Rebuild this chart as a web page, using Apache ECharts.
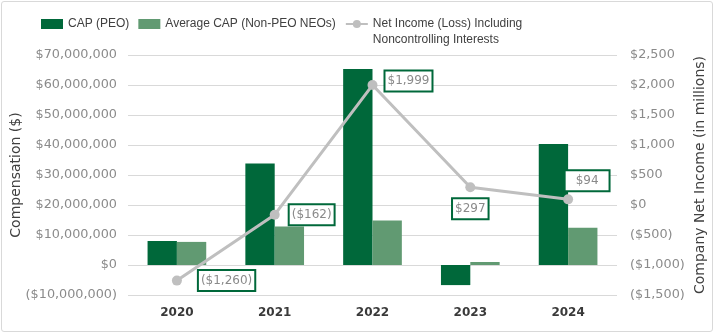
<!DOCTYPE html>
<html><head><meta charset="utf-8">
<script src="https://cdn.jsdelivr.net/npm/echarts@6/dist/echarts.min.js"></script>
<style>
html,body{margin:0;padding:0;background:#fff;}
#frame{position:absolute;left:1px;top:1px;width:710px;height:329px;border:1px solid #d9d9d9;border-radius:3px;}
#c{position:absolute;left:0;top:0;width:714px;height:333px;}
</style></head>
<body><div id="frame"></div><div id="c"></div>
<script>
const years = ['2020','2021','2022','2023','2024'];
const capPeo = [8.0e6, 33.8e6, 65.3e6, -6.7e6, 40.3e6];
const capNeo = [7.7e6, 12.8e6, 14.8e6, 1.0e6, 12.4e6];
const netIncome = [-1260, -162, 1999, 297, 94];
const netIncomeLabels = ['($1,260)', '($162)', '$1,999', '$297', '$94'];
const lineName = 'Net Income (Loss) Including Noncontrolling Interests';

const font = '"DejaVu Sans", sans-serif';
const legendFont = '"Liberation Sans", Arial, sans-serif';
function money(v){
  const s = '$' + Math.abs(v).toLocaleString('en-US');
  return v < 0 ? '(' + s + ')' : s;
}
const labelPlacement = [
  {position:'right', offset:[12,0]},
  {position:'right', offset:[5,0]},
  {position:'right', offset:[3,-4]},
  {position:'bottom', offset:[0,2]},
  {position:'top', offset:[19,1], padding:[4,10,3,10]}
];
const chart = echarts.init(document.getElementById('c'));
chart.setOption({
  animation:false,
  textStyle:{fontFamily:font},
  legend:{
    top:0, left:36, padding:[0,5], itemGap:9, itemWidth:22, itemHeight:10,
    textStyle:{fontFamily:legendFont, fontSize:12, color:'#404040', lineHeight:16},
    formatter:function(n){
      return n === lineName ? '\nNet Income (Loss) Including\nNoncontrolling Interests' : n;
    },
    data:[
      {name:'CAP (PEO)', icon:'rect'},
      {name:'Average CAP (Non-PEO NEOs)', icon:'rect'},
      {name:lineName}
    ]
  },
  grid:{left:128, right:97, top:55, bottom:38, outerBoundsMode:'none', containLabel:false},
  xAxis:{
    type:'category', data:years,
    axisLine:{show:false}, axisTick:{show:false},
    axisLabel:{fontFamily:font, fontSize:12, fontWeight:'bold', color:'#3a3a3a', margin:12}
  },
  yAxis:[
    {type:'value', min:-10e6, max:70e6, interval:10e6,
     name:'Compensation ($)', nameLocation:'middle', nameGap:105, nameMoveOverlap:false,
     nameTextStyle:{fontFamily:font, fontSize:14, color:'#404040'},
     axisLabel:{formatter:money, fontFamily:font, fontSize:12.8, color:'#8a8a8a', margin:11},
     splitLine:{lineStyle:{color:'#d9d9d9', width:1}},
     axisLine:{show:false}, axisTick:{show:false}},
    {type:'value', min:-1500, max:2500, interval:500,
     name:'Company Net Income (in millions)', nameLocation:'middle', nameGap:76, nameRotate:90,
     nameMoveOverlap:false,
     nameTextStyle:{fontFamily:font, fontSize:14, color:'#404040'},
     axisLabel:{formatter:money, fontFamily:font, fontSize:12.8, color:'#8a8a8a', margin:13},
     splitLine:{show:false}, axisLine:{show:false}, axisTick:{show:false}}
  ],
  series:[
    {name:'CAP (PEO)', type:'bar', data:capPeo, barWidth:'30%', barGap:'0%',
     itemStyle:{color:'#00683a'}},
    {name:'Average CAP (Non-PEO NEOs)', type:'bar', data:capNeo, barWidth:'30%',
     itemStyle:{color:'#619a72'}},
    {name:lineName, type:'line', yAxisIndex:1,
     data:netIncome.map((v,i)=>({value:v, label:Object.assign({}, labelPlacement[i])})),
     symbol:'circle', symbolSize:10,
     lineStyle:{color:'#bfbfbf', width:3}, itemStyle:{color:'#bfbfbf'},
     label:{show:true, formatter:p=>netIncomeLabels[p.dataIndex], fontFamily:font, fontSize:12,
       color:'#8a8a8a', backgroundColor:'#fff', borderColor:'#00683a', borderWidth:2,
       padding:[4,2,3,2]}
    }
  ]
});
</script></body></html>
